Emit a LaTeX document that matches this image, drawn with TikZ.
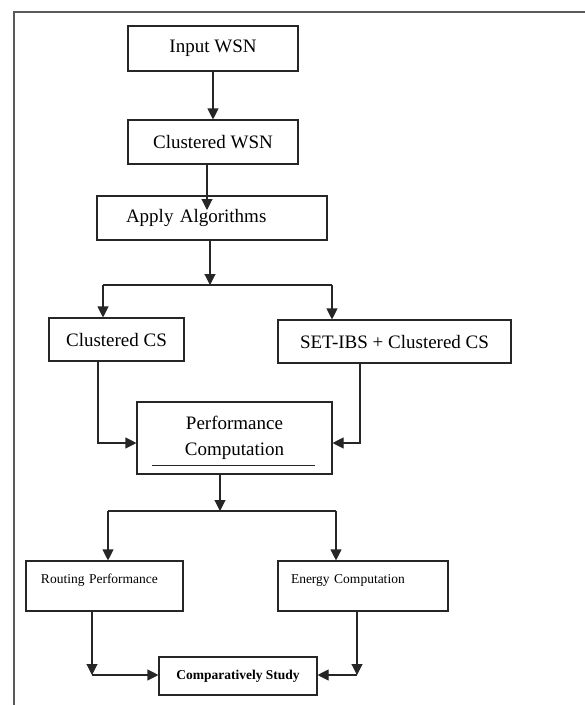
\documentclass[tikz,border=0pt]{standalone}
\usepackage{fontspec}
\setmainfont{Liberation Serif}
\usetikzlibrary{arrows.meta}
\begin{document}
\begin{tikzpicture}[x=1pt,y=-1pt,
  box/.style={draw=black!85,line width=1.1pt,inner sep=0pt,font=\fontsize{19}{26}\selectfont},
  sbox/.style={draw=black!85,line width=1.1pt,font=\fontsize{13.5}{16}\selectfont},
  conn/.style={draw=black!85,line width=1.1pt},
  arr/.style={conn,-{Triangle[length=11pt,width=11pt]}}]
\useasboundingbox (0,0) rectangle (585,705);
% outer frame
\draw[black!65,line width=1.6pt] (14,705) -- (14,12) -- (585,12);
% nodes
\node[box,minimum width=170pt,minimum height=45pt] (in) at (213,48.5) {Input WSN};
\node[box,minimum width=170pt,minimum height=44pt] (cw) at (213,142) {Clustered WSN};
\node[box,minimum height=44pt,inner xsep=29pt,text width=172pt,align=left] (ap) at (212,218) {Apply Algorithms};
\node[box,minimum width=135pt,minimum height=43pt] (cc) at (116.5,339.5) {Clustered CS};
\node[box,minimum width=233pt,minimum height=43pt] (se) at (394.5,341.5) {SET-IBS + Clustered CS};
\node[box,minimum width=195pt,minimum height=72pt,align=center] (pc) at (234.5,438) {Performance\\Computation};
\node[sbox,inner xsep=15pt,inner ysep=8pt,text width=127pt,text height=14pt,text depth=20pt,align=left] (rp) at (104.5,586) {Routing Performance};
\node[sbox,inner xsep=13pt,inner ysep=8pt,text width=144pt,text height=14pt,text depth=20pt,align=left] (ec) at (363,586) {Energy Computation};
\node[sbox,font=\bfseries\fontsize{13.5}{16}\selectfont,minimum width=158pt,minimum height=38pt,inner sep=0pt] (cs) at (238,676) {Comparatively Study};
% underline in performance box
\draw[black!85,line width=0.9pt] (152,465) -- (315,465);
% coordinates
\coordinate (t1) at (207,210);
\coordinate (j1) at (210,285);
\coordinate (jl) at (103,285);
\coordinate (jr) at (332,285);
\coordinate (l1) at (98,443);
\coordinate (r1) at (360,443);
\coordinate (j2) at (220,511);
\coordinate (kl) at (108,511);
\coordinate (kr) at (336,511);
\coordinate (m1) at (92,675);
\coordinate (m2) at (357,675);
% connectors
\draw[arr] (in.south) -- (cw.north);
\draw[arr] (cw.south -| t1) -- (t1);
\draw[arr] (ap.south -| j1) -- (j1);
\draw[conn] (jl) -- (jr);
\draw[arr] (jl) -- (jl |- cc.north);
\draw[arr] (jr) -- (jr |- se.north);
\draw[arr] (cc.south -| l1) -- (l1) -- (l1 -| pc.west);
\draw[arr] (se.south -| r1) -- (r1) -- (r1 -| pc.east);
\draw[arr] (pc.south -| j2) -- (j2);
\draw[conn] (kl) -- (kr);
\draw[arr] (kl) -- (kl |- rp.north);
\draw[arr] (kr) -- (kr |- ec.north);
\draw[arr] (rp.south -| m1) -- (m1);
\draw[arr] (m1) -- (m1 -| cs.west);
\draw[arr] (ec.south -| m2) -- (m2);
\draw[arr] (m2) -- (m2 -| cs.east);
\end{tikzpicture}
\end{document}
